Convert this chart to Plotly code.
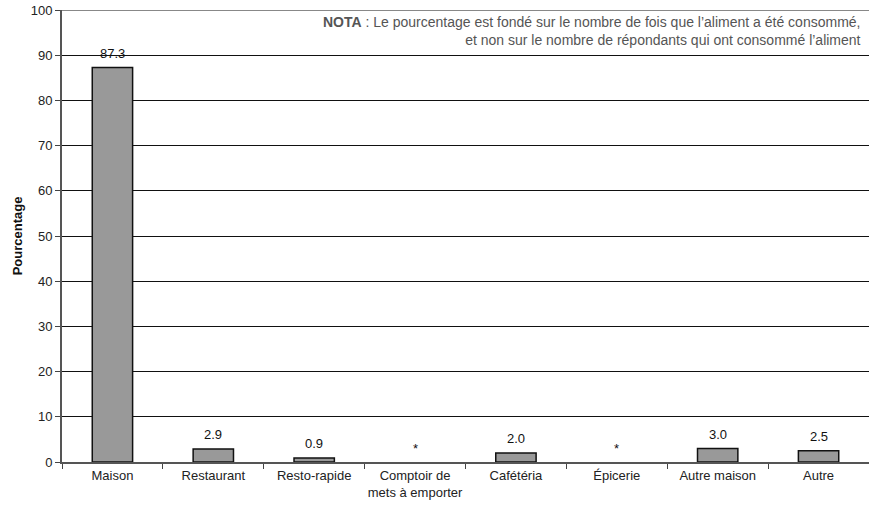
import plotly.graph_objects as go

categories = ["Maison", "Restaurant", "Resto-rapide", "Comptoir de<br>mets à emporter",
              "Cafétéria", "Épicerie", "Autre maison", "Autre"]
values = [87.3, 2.9, 0.9, None, 2.0, None, 3.0, 2.5]
labels = ["87.3", "2.9", "0.9", "*", "2.0", "*", "3.0", "2.5"]
y_ticks = [0, 10, 20, 30, 40, 50, 60, 70, 80, 90, 100]

FONT = "Liberation Sans, Arial, sans-serif"
bar_y = [v if v is not None else 0 for v in values]

fig = go.Figure(go.Bar(
    x=categories,
    y=bar_y,
    marker=dict(color="#999999",
                line=dict(color="#111111", width=[1.5 if v is not None else 0 for v in values])),
    width=0.4,
))

annotations = []
for cat, yv, lab in zip(categories, bar_y, labels):
    annotations.append(dict(x=cat, y=yv, xref="x", yref="y", text=lab, showarrow=False,
                            yanchor="middle", yshift=14,
                            font=dict(family=FONT, size=13, color="#111")))

annotations.append(dict(
    xref="paper", yref="paper", x=1, y=1, xanchor="right", yanchor="top",
    xshift=-6, yshift=-2, align="right", showarrow=False,
    text="<b>NOTA</b> : Le pourcentage est fondé sur le nombre de fois que l’aliment a été consommé,<br>"
         "et non sur le nombre de répondants qui ont consommé l’aliment",
    font=dict(family="Liberation Sans Narrow, Liberation Sans, Arial, sans-serif", size=14, color="#555"),
    bgcolor="white",
))

fig.update_layout(
    width=869, height=512,
    margin=dict(l=62, r=0, t=10, b=50),
    paper_bgcolor="white", plot_bgcolor="white",
    font=dict(family=FONT, size=13, color="#222"),
    showlegend=False,
    xaxis=dict(
        tickson="boundaries", ticks="outside", ticklen=5, tickcolor="#444",
        showline=True, linecolor="#555", linewidth=2, tickangle=0,
        showgrid=False, tickfont=dict(size=13, color="#222"),
    ),
    yaxis=dict(
        range=[0, 100], tickvals=y_ticks, ticks="outside", ticklen=5, tickcolor="#444",
        showline=True, linecolor="#555", linewidth=2,
        showgrid=True, gridcolor="#111", gridwidth=1, zeroline=False,
        tickfont=dict(size=13, color="#222"),
        title=dict(text="<b>Pourcentage</b>", font=dict(size=13, color="#111"), standoff=5),
    ),
    shapes=[dict(type="line", xref="paper", yref="y", x0=0, x1=1, y0=100, y1=100,
                 line=dict(color="#888", width=2))],
    annotations=annotations,
)

fig.write_html("out.html", config={"displayModeBar": False},
               post_script="document.body.style.margin='0';")
